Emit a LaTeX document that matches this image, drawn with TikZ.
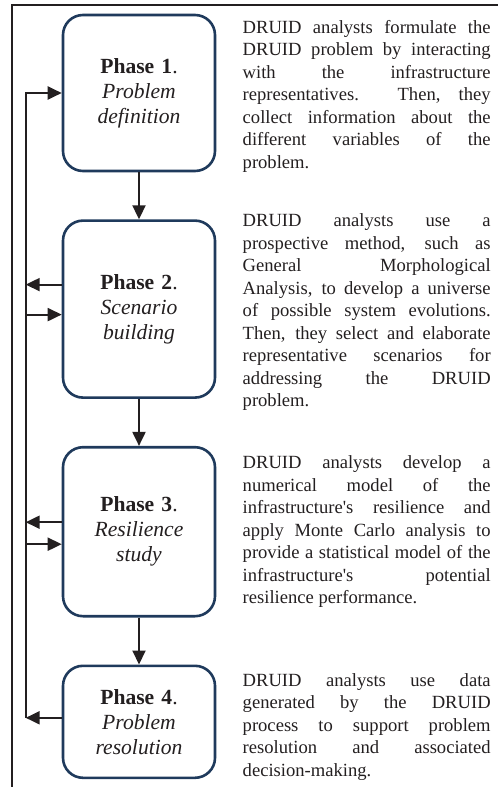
\documentclass[tikz,border=0pt]{standalone}
\usepackage{fontspec}
\setmainfont{Liberation Serif}
\usepackage{tikz}
\usetikzlibrary{arrows.meta,positioning}
\definecolor{boxblue}{HTML}{1F3A5C}
\definecolor{inkgray}{HTML}{231F20}

\begin{document}
\begin{tikzpicture}[x=0.5pt, y=-0.5pt,
  phase/.style={draw=boxblue, line width=1.3pt, rounded corners=10pt,
    minimum width=76pt, text width=70pt, align=center, inner sep=0pt,
    font=\fontsize{10.8}{12.5}\selectfont, text=inkgray},
  desc/.style={text width=124pt, align=justify, inner sep=0pt,
    font=\fontsize{9.3}{11.25}\selectfont, text=inkgray},
  arr/.style={-{Triangle[length=7pt,width=6.5pt]}, line width=1pt, inkgray},
  node distance=23.5pt
]
\useasboundingbox (0,0) rectangle (498,787);
% table rules
\draw[line width=1pt, inkgray] (11.5,787) -- (11.5,4.5) -- (498,4.5);

% phases
\node[phase, minimum height=78pt] (p1) at (139,93)
  {\textbf{Phase 1}.\\\textit{Problem}\\\textit{definition}};
\node[phase, minimum height=88.5pt, below=of p1] (p2)
  {\textbf{Phase 2}.\\\textit{Scenario}\\\textit{building}};
\node[phase, minimum height=84.5pt, below=of p2] (p3)
  {\textbf{Phase 3}.\\\textit{Resilience}\\\textit{study}};
\node[phase, minimum height=56pt, below=of p3] (p4)
  {\textbf{Phase 4}.\\\textit{Problem}\\\textit{resolution}};

% descriptions
\node[desc, right=13pt of p1, yshift=-1.5pt] (d1) {
  DRUID analysts formulate the\linebreak
  DRUID problem by interacting\linebreak
  with the infrastructure\linebreak
  representatives. Then, they\linebreak
  collect information about the\linebreak
  different variables of the\linebreak
  problem.};
\node[desc, right=13pt of p2, yshift=-1.5pt] (d2) {
  DRUID analysts use a\linebreak
  prospective method, such as\linebreak
  General Morphological\linebreak
  Analysis, to develop a universe\linebreak
  of possible system evolutions.\linebreak
  Then, they select and elaborate\linebreak
  representative scenarios for\linebreak
  addressing the DRUID\linebreak
  problem.};
\node[desc, right=13pt of p3] (d3) {
  DRUID analysts develop a\linebreak
  numerical model of the\linebreak
  infrastructure\textquotesingle s resilience and\linebreak
  apply Monte Carlo analysis to\linebreak
  provide a statistical model of the\linebreak
  infrastructure\textquotesingle s potential\linebreak
  resilience performance.};
\node[desc, right=13pt of p4, yshift=-2.5pt] (d4) {
  DRUID analysts use data\linebreak
  generated by the DRUID\linebreak
  process to support problem\linebreak
  resolution and associated\linebreak
  decision-making.};

% main flow
\draw[arr] (p1) -- (p2);
\draw[arr] (p2) -- (p3);
\draw[arr] (p3) -- (p4);

% feedback bus
\coordinate (bustop) at ([xshift=-18pt]p1.west);
\coordinate (busbot) at ([xshift=-18pt,yshift=2pt]p4.west);
\draw[arr] (busbot) -- (bustop) -- (p1.west);
\draw[arr] ([yshift=12.25pt]p2.west) -- ([yshift=12.25pt]p2.west -| bustop);
\draw[arr] ([yshift=-2.75pt]p2.west -| bustop) -- ([yshift=-2.75pt]p2.west);
\draw[arr] ([yshift=4.75pt]p3.west) -- ([yshift=4.75pt]p3.west -| bustop);
\draw[arr] ([yshift=-6.25pt]p3.west -| bustop) -- ([yshift=-6.25pt]p3.west);
\draw[arr] (busbot -| p4.west) -- (busbot);
\end{tikzpicture}
\end{document}
